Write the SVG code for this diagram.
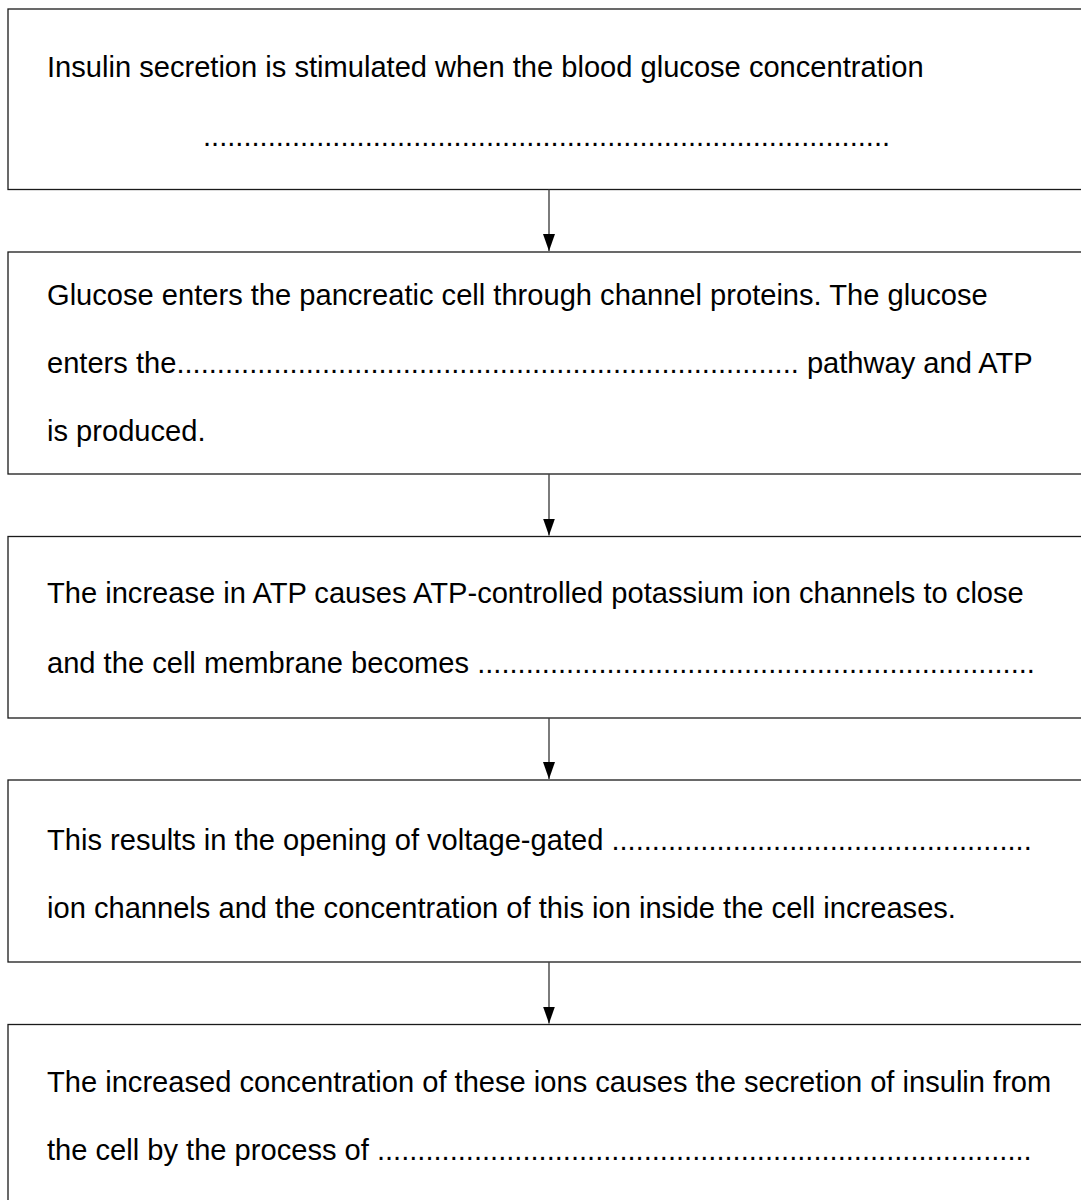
<svg xmlns="http://www.w3.org/2000/svg" width="1081" height="1200" viewBox="0 0 1081 1200">
<defs>
<style>
.box{fill:#fff;stroke:#1a1a1a;stroke-width:1.3}
.t{font-family:"Liberation Sans",Arial,sans-serif;font-size:29.1px;fill:#000}
.c{stroke:#444;stroke-width:1.4;fill:none}
</style>
<marker id="ah" markerWidth="18" markerHeight="12" refX="17" refY="6" orient="auto" markerUnits="userSpaceOnUse" viewBox="0 0 18 12">
<path d="M0,0 L17,6 L0,12 Z" fill="#000"/>
</marker>
</defs>
<rect width="1081" height="1200" fill="#fff"/>
<g id="node1">
<rect class="box" x="8" y="9" width="1090" height="180.5"/>
<text class="t" x="47" y="77">Insulin secretion is stimulated when the blood glucose concentration</text>
<text class="t" x="203" y="146">.....................................................................................</text>
</g>
<g id="node2">
<rect class="box" x="8" y="252" width="1090" height="222"/>
<text class="t" x="47" y="305">Glucose enters the pancreatic cell through channel proteins. The glucose</text>
<text class="t" x="47" y="373">enters the............................................................................. pathway and ATP</text>
<text class="t" x="47" y="441">is produced.</text>
</g>
<g id="node3">
<rect class="box" x="8" y="536.5" width="1090" height="181.5"/>
<text class="t" x="47" y="603">The increase in ATP causes ATP-controlled potassium ion channels to close</text>
<text class="t" x="47" y="673">and the cell membrane becomes  .....................................................................</text>
</g>
<g id="node4">
<rect class="box" x="8" y="780" width="1090" height="182"/>
<text class="t" x="47" y="850">This results in the opening of voltage-gated ....................................................</text>
<text class="t" x="47" y="918">ion channels and the concentration of this ion inside the cell increases.</text>
</g>
<g id="node5">
<rect class="box" x="8" y="1024.5" width="1090" height="200"/>
<text class="t" x="47" y="1092">The increased concentration of these ions causes the secretion of insulin from</text>
<text class="t" x="47" y="1160">the cell by the process of .................................................................................</text>
</g>
<g id="connectors">
<line class="c" x1="549" y1="189.5" x2="549" y2="251" marker-end="url(#ah)"/>
<line class="c" x1="549" y1="474" x2="549" y2="535.5" marker-end="url(#ah)"/>
<line class="c" x1="549" y1="718" x2="549" y2="779" marker-end="url(#ah)"/>
<line class="c" x1="549" y1="962" x2="549" y2="1023.5" marker-end="url(#ah)"/>
</g>
</svg>
